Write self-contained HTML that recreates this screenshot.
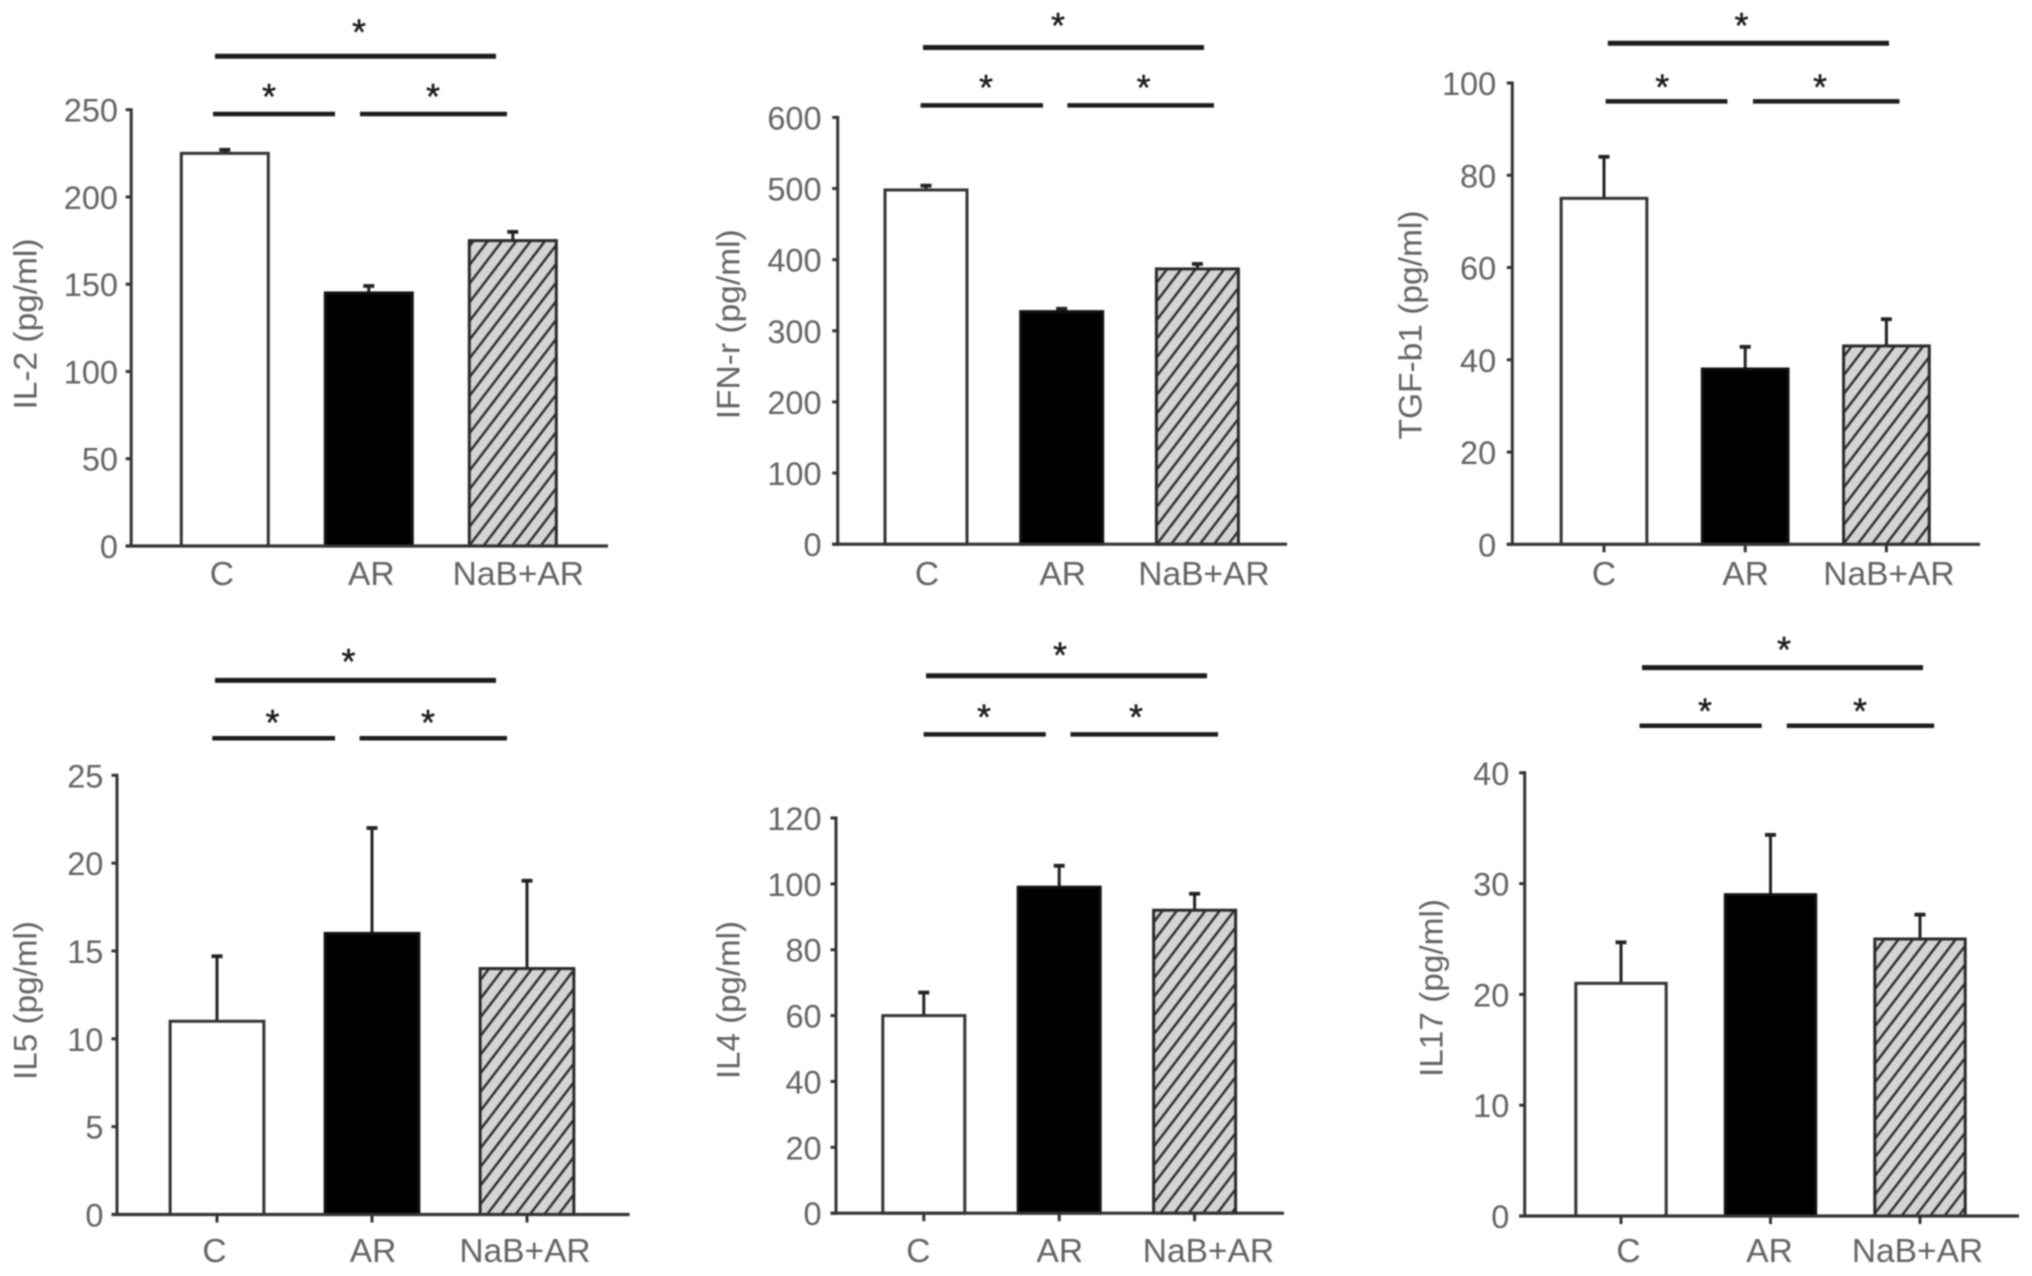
<!DOCTYPE html>
<html lang="en">
<head>
<meta charset="utf-8">
<title>Cytokine levels by group</title>
<style>
  html, body { margin: 0; padding: 0; background: #fff; }
  body { width: 2032px; height: 1276px; overflow: hidden; }
  svg { display: block; filter: blur(0.7px); }
  text { font-family: "Liberation Sans", sans-serif; fill: #636363; font-size: 32.5px; }
</style>
</head>
<body>
<svg id="figure" xmlns="http://www.w3.org/2000/svg" width="2032" height="1276" viewBox="0 0 2032 1276">
  <defs>
    <pattern id="hatch" patternUnits="userSpaceOnUse" width="14.3" height="18.7">
      <rect width="14.3" height="18.7" fill="#d4d4d4"></rect>
      <path d="M-3.575 4.675 L3.575 -4.675 M0 18.7 L14.3 0 M10.725 23.375 L17.875 14.025" stroke="#2a2a2a" stroke-width="2.4" fill="none"></path>
    </pattern>
  </defs>
</svg>
<script>
const categories = ['C', 'AR', 'NaB+AR'];

const il2Values = [225, 145, 175];
const il2Errors = [2, 4, 5];
const il2Ticks = [0, 50, 100, 150, 200, 250];

const ifnValues = [498, 327, 387];
const ifnErrors = [6, 4, 7];
const ifnTicks = [0, 100, 200, 300, 400, 500, 600];

const tgfValues = [75, 38, 43];
const tgfErrors = [9, 4.8, 5.8];
const tgfTicks = [0, 20, 40, 60, 80, 100];

const il5Values = [11, 16, 14];
const il5Errors = [3.7, 6, 5];
const il5Ticks = [0, 5, 10, 15, 20, 25];

const il4Values = [60, 99, 92];
const il4Errors = [7, 6.5, 5];
const il4Ticks = [0, 20, 40, 60, 80, 100, 120];

const il17Values = [21, 29, 25];
const il17Errors = [3.7, 5.4, 2.2];
const il17Ticks = [0, 10, 20, 30, 40];

const panels = [
  { key: 'il2', title: 'IL-2 (pg/ml)', values: il2Values, errors: il2Errors, ticks: il2Ticks,
    axisX: 131.2, xEnd: 608, y0: 546, yTop: 109.7, first: 224.8, step: 144, barW: 87, xTicks: false,
    labelRight: 118, labelOffsets: [-3, 2.5, 5.5], labelY: 585,
    titleX: 25.5, titleY: 324, titleLen: 171,
    sigTop: [215, 496, 56.3], sigLeft: [213, 335, 114], sigRight: [360, 507, 114],
    stars: [[359, 24.5], [269, 89], [433, 89]] },
  { key: 'ifn', title: 'IFN-r (pg/ml)', values: ifnValues, errors: ifnErrors, ticks: ifnTicks,
    axisX: 837.7, xEnd: 1287, y0: 544.2, yTop: 117.4, first: 926, step: 135.7, barW: 82, xTicks: false,
    labelRight: 821.6, labelOffsets: [1, 1, 6.5], labelY: 585,
    titleX: 728.5, titleY: 324.3, titleLen: 190,
    sigTop: [923, 1204, 47.5], sigLeft: [920.6, 1043, 105.4], sigRight: [1067.4, 1214, 105.4],
    stars: [[1058, 18], [986, 80], [1143.6, 80]] },
  { key: 'tgf', title: 'TGF-b1 (pg/ml)', values: tgfValues, errors: tgfErrors, ticks: tgfTicks,
    axisX: 1512.3, xEnd: 1980, y0: 544.3, yTop: 83, first: 1604, step: 141.2, barW: 85.7, xTicks: true,
    labelRight: 1496.2, labelOffsets: [0, 0.5, 2.5], labelY: 585,
    titleX: 1410.5, titleY: 325, titleLen: 229,
    sigTop: [1607.8, 1889, 43.2], sigLeft: [1605.6, 1727.4, 101.4], sigRight: [1753, 1899.5, 101.4],
    stars: [[1741.5, 18], [1662.2, 79.5], [1820, 79.5]] },
  { key: 'il5', title: 'IL5 (pg/ml)', values: il5Values, errors: il5Errors, ticks: il5Ticks,
    axisX: 117, xEnd: 629.6, y0: 1214.5, yTop: 775.3, first: 217, step: 155, barW: 93.7, xTicks: true,
    labelRight: 103.4, labelOffsets: [-2.5, 1, -2], labelY: 1262,
    titleX: 25.5, titleY: 1000.5, titleLen: 159,
    sigTop: [215, 496, 680.4], sigLeft: [212.3, 335, 738.2], sigRight: [359.6, 507, 738.2],
    stars: [[348.5, 654], [272.5, 715], [428, 715]] },
  { key: 'il4', title: 'IL4 (pg/ml)', values: il4Values, errors: il4Errors, ticks: il4Ticks,
    axisX: 836, xEnd: 1284, y0: 1213.2, yTop: 818, first: 923.8, step: 135.4, barW: 82, xTicks: true,
    labelRight: 821.6, labelOffsets: [-5.5, 0.6, 13.8], labelY: 1262,
    titleX: 728.5, titleY: 1000, titleLen: 158,
    sigTop: [926, 1207, 675.8], sigLeft: [923.6, 1045.8, 734.4], sigRight: [1070.5, 1218, 734.4],
    stars: [[1060, 647.5], [984, 709.5], [1136, 709.5]] },
  { key: 'il17', title: 'IL17 (pg/ml)', values: il17Values, errors: il17Errors, ticks: il17Ticks,
    axisX: 1524.7, xEnd: 2019, y0: 1216, yTop: 772.8, first: 1621, step: 149.5, barW: 90.4, xTicks: true,
    labelRight: 1509.3, labelOffsets: [7.5, -1, -2.5], labelY: 1262,
    titleX: 1431.5, titleY: 988, titleLen: 178,
    sigTop: [1642, 1923, 667.6], sigLeft: [1639.5, 1761.7, 725.8], sigRight: [1786.8, 1934.2, 725.8],
    stars: [[1784, 642], [1705, 703.5], [1860, 703.5]] }
];

const SVG_NS = 'http://www.w3.org/2000/svg';
const figure = document.getElementById('figure');
const AXIS_COLOR = '#333';

function make(tag, attrs, parent, content) {
  const el = document.createElementNS(SVG_NS, tag);
  for (const k in attrs) el.setAttribute(k, attrs[k]);
  if (content !== undefined) el.textContent = content;
  parent.appendChild(el);
  return el;
}

function line(x1, y1, x2, y2, color, width, parent) {
  return make('line', { x1: x1, y1: y1, x2: x2, y2: y2, stroke: color, 'stroke-width': width }, parent);
}

const barFills = ['#ffffff', '#000000', 'url(#hatch)'];
const barStrokes = ['#333', '#111', '#2a2a2a'];

panels.forEach(function (p) {
  const maxTick = p.ticks[p.ticks.length - 1];
  const yScale = function (v) { return p.y0 - (v / maxTick) * (p.y0 - p.yTop); };
  const xScale = function (i) { return p.first + p.step * i; };

  const group = make('g', {}, figure);
  
  

  categories.forEach(function (cat, i) {
    const cx = xScale(i);
    const top = yScale(p.values[i]);
    const errTop = yScale(p.values[i] + p.errors[i]);

    const stem = line(cx, top, cx, errTop, '#222', 3, group);
    
    

    const cap = line(cx - 5.5, errTop, cx + 5.5, errTop, '#222', 3.8, group);
    
    

    const bar = make('rect', {
      x: cx - p.barW / 2, y: top, width: p.barW, height: p.y0 - top,
      fill: barFills[i], stroke: barStrokes[i], 'stroke-width': 3
    }, group);
    
    

    if (p.xTicks) {
      const xt = line(cx, p.y0, cx, p.y0 + 8, AXIS_COLOR, 3, group);
      
      
    }

    const catLabel = make('text', { x: cx + p.labelOffsets[i], y: p.labelY, 'text-anchor': 'middle', style: 'font-size:33.5px' }, group, cat);
    
    
  });

  const yAxis = line(p.axisX, p.yTop - 1.5, p.axisX, p.y0 + 1.5, AXIS_COLOR, 3, group);
  
  

  const xAxis = line(p.axisX - 5.5, p.y0, p.xEnd, p.y0, AXIS_COLOR, 3.2, group);
  
  

  p.ticks.forEach(function (t) {
    const ty = yScale(t);

    const tick = line(p.axisX - 5.5, ty, p.axisX, ty, AXIS_COLOR, 3, group);
    
    

    const tickLabel = make('text', { x: p.labelRight, y: ty + 12, 'text-anchor': 'end' }, group, String(t));
    
    
  });

  const title = make('text', {
    transform: 'translate(' + (p.titleX + 11) + ',' + p.titleY + ') rotate(-90)',
    'text-anchor': 'middle', textLength: p.titleLen, lengthAdjust: 'spacingAndGlyphs'
  }, group, p.title);
  
  

  const sigAll = line(p.sigTop[0], p.sigTop[2], p.sigTop[1], p.sigTop[2], '#1c1c1c', 5, group);
  
  

  const sigL = line(p.sigLeft[0], p.sigLeft[2], p.sigLeft[1], p.sigLeft[2], '#1c1c1c', 4.5, group);
  
  

  const sigR = line(p.sigRight[0], p.sigRight[2], p.sigRight[1], p.sigRight[2], '#1c1c1c', 4.5, group);
  
  

  p.stars.forEach(function (s, i) {
    const star = make('text', {
      x: s[0], y: s[1] + 20, 'text-anchor': 'middle',
      style: 'font-size:36px;fill:#1a1a1a;stroke:#1a1a1a;stroke-width:0.4px'
    }, group, '*');
    
    
  });
});
</script>
</body>
</html>
